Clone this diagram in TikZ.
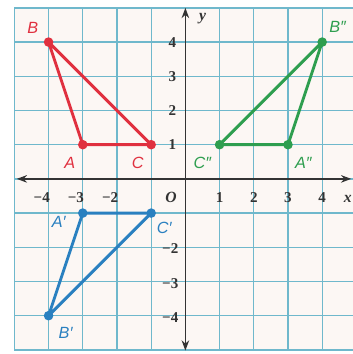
\documentclass[tikz,border=0pt]{standalone}
\usepackage{fontspec}
\setmainfont{Liberation Serif}
\newfontfamily\labfont{Liberation Sans}
\usetikzlibrary{arrows.meta}
\definecolor{gridc}{HTML}{6FB8CC}
\definecolor{bgc}{HTML}{FCF7F4}
\definecolor{redc}{HTML}{E0303F}
\definecolor{greenc}{HTML}{2E9E4F}
\definecolor{bluec}{HTML}{2A80C0}
\definecolor{axisc}{HTML}{333333}
\tikzset{
  tri/.style={line width=2.4pt, line join=round},
  pt/.style={circle, inner sep=0pt, minimum size=2.8mm},
  plab/.style={font=\labfont\itshape\fontsize{13.5}{13.5}\selectfont, inner sep=0pt},
  num/.style={font=\bfseries\fontsize{12.5}{12.5}\selectfont, text=axisc, inner sep=0pt},
  axlab/.style={font=\itshape\bfseries\fontsize{13}{13}\selectfont, text=axisc, inner sep=0pt},
  axis/.style={line width=1.4pt, draw=axisc, {Stealth[length=3mm,width=2.2mm]}-{Stealth[length=3mm,width=2.2mm]}}
}
\begin{document}
\begin{tikzpicture}
\useasboundingbox (-5.42,-5.12) rectangle (4.9,5.23);
\fill[white] (-5.42,-5.12) rectangle (4.9,5.23);
\fill[bgc] (-5,-5) rectangle (4.9,5);
\draw[gridc, line width=1.1pt] (-5,-5) grid (4.9,5);
\draw[gridc, line width=1.1pt] (-5,-5) -- (4.9,-5) (-5,5) -- (4.9,5);
% axes
\coordinate (xl) at (-4.93,0);
\coordinate (xr) at (4.85,0);
\coordinate (yb) at (0,-5.02);
\coordinate (yt) at (0,5.0);
\draw[axis] (xl) -- (xr);
\draw[axis] (yb) -- (yt);
% tick labels
\node[num] (xm4) at (-4.2,-0.55) {−4};
\node[num] (xm3) at (-3.2,-0.55) {−3};
\node[num] (xm2) at (-2.2,-0.55) {−2};
\node[num] (x1) at (1,-0.55) {1};
\node[num] (x2) at (2,-0.55) {2};
\node[num] (x3) at (3,-0.55) {3};
\node[num] (x4) at (4,-0.55) {4};
\node[num] (y4) at (-0.38,4) {4};
\node[num] (y3) at (-0.38,3) {3};
\node[num] (y2) at (-0.38,2) {2};
\node[num] (y1) at (-0.38,1) {1};
\node[num, anchor=east] (ym2) at (-0.2,-2.05) {−2};
\node[num, anchor=east] (ym3) at (-0.2,-3.05) {−3};
\node[num, anchor=east] (ym4) at (-0.2,-4.05) {−4};
\node[axlab] (o) at (-0.42,-0.53) {O};
\node[axlab] (xlab) at (4.75,-0.58) {x};
\node[axlab] (ylab) at (0.5,4.68) {y};
% red triangle
\node[pt, fill=redc] (A) at (-3,1) {};
\node[pt, fill=redc] (B) at (-4,4) {};
\node[pt, fill=redc] (C) at (-1,1) {};
\draw[tri, redc] (A.center) -- (B.center) -- (C.center) -- cycle;
\node[plab, text=redc] (lA) at (-3.38,0.47) {A};
\node[plab, text=redc] (lB) at (-4.46,4.42) {B};
\node[plab, text=redc] (lC) at (-1.39,0.47) {C};
% green triangle
\node[pt, fill=greenc] (A2) at (3,1) {};
\node[pt, fill=greenc] (B2) at (4,4) {};
\node[pt, fill=greenc] (C2) at (1,1) {};
\draw[tri, greenc] (A2.center) -- (B2.center) -- (C2.center) -- cycle;
\node[plab, text=greenc] (lA2) at (3.45,0.47) {A″};
\node[plab, text=greenc] (lB2) at (4.45,4.44) {B″};
\node[plab, text=greenc] (lC2) at (0.5,0.47) {C″};
% blue triangle
\node[pt, fill=bluec] (A1) at (-3,-1) {};
\node[pt, fill=bluec] (B1) at (-4,-4) {};
\node[pt, fill=bluec] (C1) at (-1,-1) {};
\draw[tri, bluec] (A1.center) -- (B1.center) -- (C1.center) -- cycle;
\node[plab, text=bluec] (lA1) at (-3.7,-1.27) {A′};
\node[plab, text=bluec] (lB1) at (-3.5,-4.5) {B′};
\node[plab, text=bluec] (lC1) at (-0.62,-1.42) {C′};
\end{tikzpicture}
\end{document}
